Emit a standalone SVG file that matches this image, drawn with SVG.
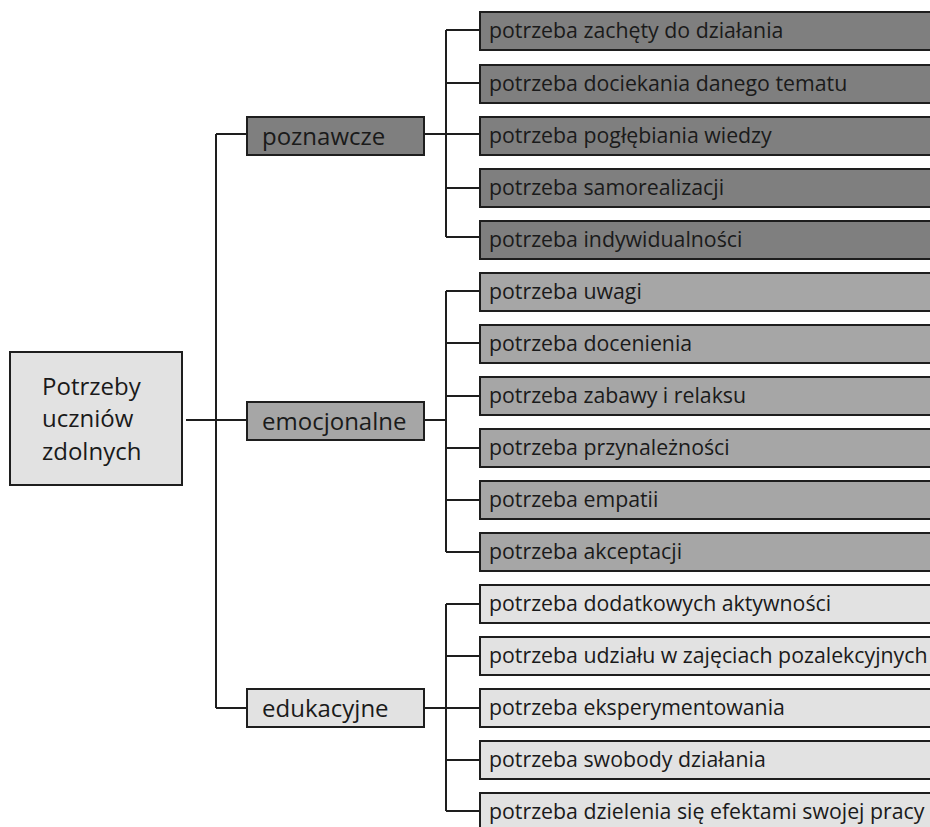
<svg xmlns="http://www.w3.org/2000/svg" width="930" height="827" viewBox="0 0 930 827">
<style>
rect{stroke:#1e1e1e;stroke-width:2}
.c1{fill:#7f7f7f}.c2{fill:#a6a6a6}.c3{fill:#e2e2e2}
text{font-family:"Open Sans","Noto Sans","DejaVu Sans",sans-serif;fill:#1a1a1a}
.leaf{font-size:21.3px}
.cat{font-size:24px}
.root{font-size:24px}
#connectors path{fill:none;stroke:#1e1e1e;stroke-width:2}
</style>
<rect x="0" y="0" width="930" height="827" fill="#ffffff" style="stroke:none"/>
<g id="connectors">
<path d="M186 420H247"/>
<path d="M216 134V708M216 134H247M216 708H247"/>
<path d="M424 134H480M446 30V237M446 30H480M446 83H480M446 188H480M446 237H480"/>
<path d="M424 420H446M446 291V552M446 291H480M446 343H480M446 396H480M446 448H480M446 500H480M446 552H480"/>
<path d="M424 708H480M446 604V811M446 604H480M446 656H480M446 760H480M446 811H480"/>
</g>
<g id="root"><rect class="c3" x="10" y="352" width="172" height="133"/><text class="root" x="42" y="394.5">Potrzeby</text><text class="root" x="42" y="427">uczniów</text><text class="root" x="42" y="459.5">zdolnych</text></g>
<g id="poznawcze"><rect class="c1" x="247" y="117" width="177" height="38"/><text class="cat" x="262" y="144.5">poznawcze</text></g>
<g id="emocjonalne"><rect class="c2" x="247" y="402" width="177" height="38"/><text class="cat" x="262" y="430">emocjonalne</text></g>
<g id="edukacyjne"><rect class="c3" x="247" y="689" width="177" height="38"/><text class="cat" x="262" y="717">edukacyjne</text></g>
<g id="p1"><rect class="c1" x="480" y="12" width="470" height="38"/><text class="leaf" x="489" y="38">potrzeba zachęty do działania</text></g>
<g id="p2"><rect class="c1" x="480" y="65" width="470" height="38"/><text class="leaf" x="489" y="91">potrzeba dociekania danego tematu</text></g>
<g id="p3"><rect class="c1" x="480" y="117" width="470" height="38"/><text class="leaf" x="489" y="143">potrzeba pogłębiania wiedzy</text></g>
<g id="p4"><rect class="c1" x="480" y="169" width="470" height="38"/><text class="leaf" x="489" y="195">potrzeba samorealizacji</text></g>
<g id="p5"><rect class="c1" x="480" y="221" width="470" height="38"/><text class="leaf" x="489" y="247">potrzeba indywidualności</text></g>
<g id="e1"><rect class="c2" x="480" y="273" width="470" height="38"/><text class="leaf" x="489" y="299">potrzeba uwagi</text></g>
<g id="e2"><rect class="c2" x="480" y="325" width="470" height="38"/><text class="leaf" x="489" y="351">potrzeba docenienia</text></g>
<g id="e3"><rect class="c2" x="480" y="377" width="470" height="38"/><text class="leaf" x="489" y="403">potrzeba zabawy i relaksu</text></g>
<g id="e4"><rect class="c2" x="480" y="429" width="470" height="38"/><text class="leaf" x="489" y="455">potrzeba przynależności</text></g>
<g id="e5"><rect class="c2" x="480" y="481" width="470" height="38"/><text class="leaf" x="489" y="507">potrzeba empatii</text></g>
<g id="e6"><rect class="c2" x="480" y="533" width="470" height="38"/><text class="leaf" x="489" y="559">potrzeba akceptacji</text></g>
<g id="d1"><rect class="c3" x="480" y="585" width="470" height="38"/><text class="leaf" x="489" y="611">potrzeba dodatkowych aktywności</text></g>
<g id="d2"><rect class="c3" x="480" y="637" width="470" height="38"/><text class="leaf" x="489" y="663">potrzeba udziału w zajęciach pozalekcyjnych</text></g>
<g id="d3"><rect class="c3" x="480" y="689" width="470" height="38"/><text class="leaf" x="489" y="715">potrzeba eksperymentowania</text></g>
<g id="d4"><rect class="c3" x="480" y="741" width="470" height="38"/><text class="leaf" x="489" y="767">potrzeba swobody działania</text></g>
<g id="d5"><rect class="c3" x="480" y="793" width="470" height="38"/><text class="leaf" x="489" y="819">potrzeba dzielenia się efektami swojej pracy</text></g>
</svg>
